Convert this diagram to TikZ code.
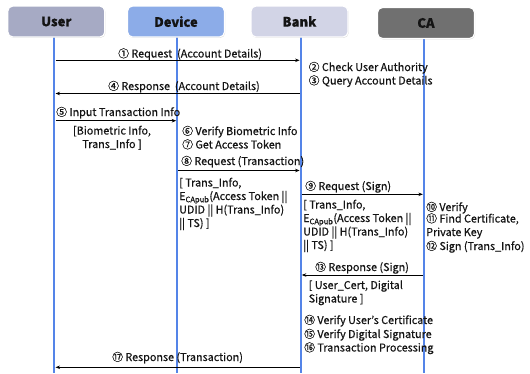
\documentclass[tikz,border=0pt]{standalone}
\usepackage{fontspec}
\setmainfont{Noto Sans CJK KR}[FakeBold=0.5]
\usetikzlibrary{arrows.meta,shadows}

\definecolor{userfill}{RGB}{166,170,196}
\definecolor{devicefill}{RGB}{140,172,232}
\definecolor{bankfill}{RGB}{210,212,230}
\definecolor{cafill}{RGB}{112,112,112}
\definecolor{lifeblue}{RGB}{84,132,232}
\definecolor{inkgray}{RGB}{20,20,20}

\begin{document}
\begin{tikzpicture}[x=1pt,y=-1pt,
  font=\fontsize{10.8}{13.5}\selectfont, text=inkgray,
  actor/.style={draw=white, line width=1.2pt, rounded corners=5pt,
    minimum width=97pt, minimum height=31pt, inner sep=0pt,
    font=\fontsize{13}{15}\selectfont\bfseries,
    drop shadow={shadow xshift=0.6pt, shadow yshift=-0.9pt, opacity=0.3}},
  life/.style={draw=lifeblue, line width=1.7pt},
  msg/.style={draw=black, line width=0.8pt, -{Stealth[length=4.5pt,width=3.5pt]}},
  lbl/.style={anchor=base west, inner sep=0pt},
  % multi-line blocks are anchored at the baseline of their last line
  blk/.style={anchor=base west, inner sep=0pt, align=left},
  cblk/.style={anchor=base, inner sep=0pt, align=center}]

\useasboundingbox (0,0) rectangle (530,373);
\fill[white] (0,0) rectangle (530,373);

% lifelines
\coordinate (uTop) at (54.3,37);   \coordinate (uEnd) at (54.3,373);
\coordinate (dTop) at (177.3,37);  \coordinate (dEnd) at (177.3,373);
\coordinate (bTop) at (300.7,37);  \coordinate (bEnd) at (300.7,373);
\coordinate (cTop) at (424,38);    \coordinate (cEnd) at (424,373);
\draw[life] (uTop) -- (uEnd);
\draw[life] (dTop) -- (dEnd);
\draw[life] (bTop) -- (bEnd);
\draw[life] (cTop) -- (cEnd);

% participants
\node[actor, fill=userfill]   (user)   at (56.3,21.5)  {User};
\node[actor, fill=devicefill] (device) at (176,21.5)   {Device};
\node[actor, fill=bankfill]   (bank)   at (299.5,21.5) {Bank};
\node[actor, fill=cafill]     (ca)     at (426,23)     {CA};

% message end points on the lifelines
\coordinate (u1) at (55.5,60.3);   \coordinate (b1) at (299.6,60.3);
\coordinate (b4) at (299.6,93.5);  \coordinate (u4) at (55.5,93.5);
\coordinate (u5) at (55.5,120.7);  \coordinate (d5) at (176.2,120.7);
\coordinate (d8) at (178.4,170.5); \coordinate (b8) at (299.6,170.5);
\coordinate (b9) at (301.8,194.3); \coordinate (c9) at (422.9,194.3);
\coordinate (c13) at (422.9,275); \coordinate (b13) at (301.8,275);
\coordinate (b17) at (299.6,367.3);\coordinate (u17) at (55.5,367.3);

\draw[msg] (u1) -- (b1);
\draw[msg] (b4) -- (u4);
\draw[msg] (u5) -- (d5);
\draw[msg] (d8) -- (b8);
\draw[msg] (b9) -- (c9);
\draw[msg] (c13) -- (b13);
\draw[msg] (b17) -- (u17);

% labels
\node[lbl] (l1)  at (118,57.5)  {① Request\ \ (Account Details)};
\node[lbl] (l2)  at (308.5,71)  {② Check User Authority};
\node[lbl] (l3)  at (308.5,84.5){③ Query Account Details};
\node[lbl] (l4)  at (108,90)    {④ Response\ \ (Account Details)};
\node[lbl] (l5)  at (56,116)    {⑤ Input Transaction Info};
\node[cblk] (l5b) at (112,148)  {[Biometric Info,\\Trans\_Info ]};
\node[lbl] (l6)  at (182,135)   {⑥ Verify Biometric Info};
\node[lbl] (l7)  at (182,148.5) {⑦ Get Access Token};
\node[lbl] (l8)  at (181,165)   {⑧ Request (Transaction)};
\node[blk] (l8b) at (179,227)
  {[ Trans\_Info,\\E\textsubscript{CApub}(Access Token ||\\UDID || H(Trans\_Info)\\|| TS) ]};
\node[lbl] (l9)  at (305,190)   {⑨ Request (Sign)};
\node[blk] (l9b) at (303,249)
  {[ Trans\_Info,\\E\textsubscript{CApub}(Access Token ||\\UDID || H(Trans\_Info)\\|| TS) ]};
\node[lbl] (l10) at (426,211)   {⑩ Verify};
\node[blk] (l11) at (426,236)   {⑪ Find Certificate,\\Private Key};
\node[lbl] (l12) at (426,250)   {⑫ Sign (Trans\_Info)};
\node[lbl] (l13) at (315,271)   {⑬ Response (Sign)};
\node[blk] (l13b) at (308.5,302.5) {[ User\_Cert, Digital\\Signature ]};
\node[lbl] (l14) at (304,324)   {⑭ Verify User’s Certificate};
\node[lbl] (l15) at (304,338)   {⑮ Verify Digital Signature};
\node[lbl] (l16) at (304,351.5) {⑯ Transaction Processing};
\node[lbl] (l17) at (112,361)   {⑰ Response (Transaction)};
\end{tikzpicture}
\end{document}
